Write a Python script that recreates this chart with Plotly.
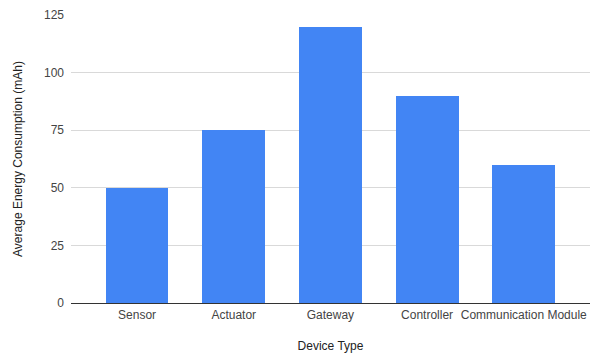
import plotly.graph_objects as go

device_types = ["Sensor", "Actuator", "Gateway", "Controller", "Communication Module"]
energy_mah = [50, 75, 120, 90, 60]
y_ticks = [0, 25, 50, 75, 100, 125]

font_family = "Arial, Liberation Sans, sans-serif"
label_color = "#444444"

fig = go.Figure(
    go.Bar(
        x=list(range(len(device_types))),
        y=energy_mah,
        marker=dict(color="#4285f4", line=dict(width=0)),
        width=0.65,
    )
)

fig.update_layout(
    width=592,
    height=355,
    margin=dict(l=71, r=2, t=15, b=52),
    paper_bgcolor="white",
    plot_bgcolor="white",
    showlegend=False,
    font=dict(family=font_family, size=12, color=label_color),
    bargap=0,
)

fig.update_xaxes(
    range=[-0.683, 4.685],
    tickmode="array",
    tickvals=list(range(len(device_types))),
    ticktext=device_types,
    showgrid=False,
    showline=False,
    ticks="",
    ticklabelstandoff=3,
    tickfont=dict(size=12, color=label_color),
    title=dict(text="Device Type", font=dict(size=12, color="#222222"), standoff=20),
)

fig.update_yaxes(
    range=[0, 125],
    tickmode="array",
    tickvals=y_ticks,
    showgrid=True,
    gridcolor="#d9d9d9",
    gridwidth=1,
    zeroline=True,
    zerolinecolor="#333333",
    zerolinewidth=1,
    showline=False,
    ticks="",
    ticklabelstandoff=6,
    tickfont=dict(size=12, color=label_color),
    title=dict(text="Average Energy Consumption (mAh)", font=dict(size=12, color="#222222"), standoff=18),
)

fig.write_html("out.html")
